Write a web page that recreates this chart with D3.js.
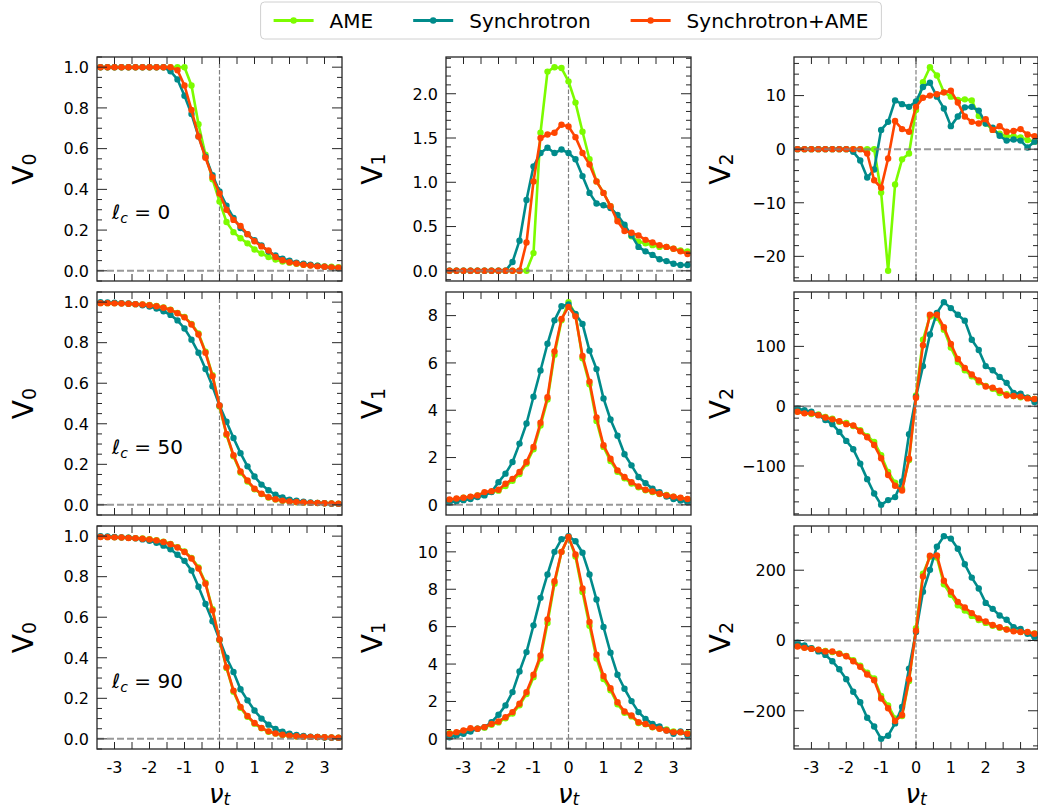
<!DOCTYPE html>
<html>
<head>
<meta charset="utf-8">
<script src="https://cdn.jsdelivr.net/npm/d3@7"></script>
<style>
  body { margin: 0; background: #fff; }
  svg { display: block; font-family: "DejaVu Sans", sans-serif; }
</style>
</head>
<body>
<svg id="chart" width="1038" height="810"></svg>
<script>
// nu_t bin centres (common x grid of every panel)
const nu = [-3.4,-3.2,-3.0,-2.8,-2.6,-2.4,-2.2,-2.0,-1.8,-1.6,-1.4,-1.2,-1.0,-0.8,-0.6,-0.4,-0.2,0.0,
            0.2,0.4,0.6,0.8,1.0,1.2,1.4,1.6,1.8,2.0,2.2,2.4,2.6,2.8,3.0,3.2,3.4];

const seriesNames = ["AME", "Synchrotron", "Synchrotron+AME"];
const lcValues = [0, 50, 90];

// ---- l_c = 0 ----
const v0_lc0_ame = [1,1,1,1,1,1,1,1,1,1,1,1,1,0.91,0.72,0.57,0.45,0.34,0.24,0.19,0.16,0.135,0.105,0.085,0.068,0.055,0.046,0.04,0.035,0.03,0.027,0.025,0.022,0.02,0.018];
const v0_lc0_syn = [1,1,1,1,1,1,1,1,1,1,0.98,0.94,0.86,0.77,0.66,0.56,0.47,0.39,0.32,0.26,0.21,0.18,0.15,0.125,0.095,0.075,0.06,0.05,0.04,0.035,0.03,0.025,0.02,0.015,0.012];
const v0_lc0_mix = [1,1,1,1,1,1,1,1,1,1,1,0.985,0.91,0.79,0.66,0.555,0.46,0.38,0.30,0.25,0.22,0.18,0.145,0.12,0.10,0.068,0.052,0.042,0.036,0.03,0.026,0.022,0.02,0.017,0.015];

const v1_lc0_ame = [0,0,0,0,0,0,0,0,0,0,0,0,0.2,1.56,2.25,2.30,2.29,2.14,1.90,1.57,1.26,1.01,0.88,0.73,0.59,0.50,0.39,0.33,0.31,0.29,0.27,0.27,0.25,0.23,0.22];
const v1_lc0_syn = [0,0,0,0,0,0,0,0,0,0.10,0.34,0.80,1.18,1.33,1.39,1.33,1.37,1.33,1.26,1.07,0.88,0.76,0.74,0.71,0.63,0.52,0.40,0.27,0.22,0.18,0.13,0.11,0.08,0.065,0.065];
const v1_lc0_mix = [0,0,0,0,0,0,0,0,0,0,0,0.32,1.01,1.50,1.54,1.56,1.65,1.63,1.51,1.33,1.20,1.01,0.88,0.73,0.56,0.45,0.43,0.40,0.35,0.32,0.29,0.27,0.25,0.22,0.19];

const v2_lc0_ame = [0,0,0,0,0,0,0,0,0,0,0,0,-8.1,-22.7,-6.6,-1.9,-0.8,7.3,12.5,15.3,13.75,10.6,9.8,9.2,9.3,9.1,6.2,4.8,3.6,2.9,2.4,2.4,2.2,1.7,1.4];
const v2_lc0_syn = [0,0,0,0,0,0,0,0,-0.5,-2.1,-5.3,-3.8,3.6,5.1,9.1,8.4,7.9,8.9,11.6,12.4,9.8,7.6,4.3,6.1,7.8,7.9,7.2,4.8,4.0,2.5,1.6,1.8,1.6,0.3,1.4];
const v2_lc0_mix = [0,0,0,0,0,0,0,0,0,0,-0.8,-5.8,-7.2,-1.75,5.25,3.75,3.25,7.9,9.6,10.0,10.25,10.6,10.9,8.7,6.1,5.1,4.8,5.6,3.6,4.3,3.25,3.4,3.75,2.75,2.4];

// ---- l_c = 50 ----
const v0_lc50_ame = [0.996,0.995,0.995,0.994,0.992,0.99,0.989,0.986,0.981,0.974,0.963,0.947,0.927,0.893,0.845,0.755,0.64,0.485,0.345,0.24,0.16,0.115,0.077,0.053,0.036,0.027,0.02,0.016,0.013,0.011,0.01,0.009,0.008,0.007,0.006];
const v0_lc50_syn = [1.0,0.998,0.997,0.995,0.993,0.99,0.985,0.978,0.968,0.955,0.937,0.91,0.87,0.815,0.75,0.67,0.585,0.49,0.41,0.33,0.255,0.19,0.14,0.1,0.072,0.05,0.036,0.026,0.02,0.015,0.012,0.01,0.008,0.006,0.005];
const v0_lc50_mix = [0.995,0.995,0.994,0.993,0.992,0.99,0.988,0.985,0.98,0.972,0.962,0.945,0.925,0.89,0.84,0.75,0.635,0.49,0.35,0.245,0.165,0.12,0.08,0.055,0.038,0.028,0.021,0.017,0.014,0.012,0.01,0.009,0.008,0.007,0.006];

const v1_lc50_ame = [0.2,0.25,0.3,0.33,0.4,0.5,0.55,0.6,0.8,1.02,1.3,1.75,2.35,3.35,4.45,6.35,7.8,8.57,8.05,6.2,5.1,3.55,2.45,1.85,1.4,1.12,0.9,0.74,0.62,0.54,0.46,0.42,0.34,0.28,0.24];
const v1_lc50_syn = [0.1,0.15,0.2,0.25,0.33,0.4,0.54,0.96,1.32,1.81,2.59,3.44,4.57,5.68,6.81,7.8,8.4,8.47,8.07,7.65,6.52,5.74,4.5,3.61,2.92,2.14,1.67,1.18,0.92,0.68,0.54,0.35,0.25,0.18,0.11];
const v1_lc50_mix = [0.23,0.27,0.3,0.35,0.4,0.54,0.58,0.64,0.89,1.1,1.39,1.81,2.45,3.47,4.55,6.49,7.86,8.37,7.97,6.3,5.21,3.7,2.52,1.95,1.46,1.18,0.96,0.78,0.64,0.57,0.47,0.4,0.35,0.3,0.25];

const v2_lc50_ame = [-9,-11,-13,-14,-18,-21,-26,-28,-33,-40,-50,-60,-82,-110,-128,-138,-90,18,111,150,148,128,98,74,60,50,40,34,29,22,20,17,15,14,12];
const v2_lc50_syn = [-3.9,-6.7,-9.4,-15,-23,-30,-43,-58,-72,-96,-122,-146,-165,-157,-152,-126,-47,16,67,120,156,174,164,153,143,111,94,67,60,49,39,22,21,14,7];
const v2_lc50_mix = [-9.4,-12,-12,-15,-19,-22,-25,-30,-32,-42,-52,-65,-87,-115,-133,-141,-88,14,102,153,153,132,104,79,64,53,43,33,31,26,18,17,16,13,12];

// ---- l_c = 90 ----
const v0_lc90_ame = [0.997,0.996,0.995,0.993,0.992,0.99,0.988,0.985,0.98,0.973,0.962,0.946,0.925,0.893,0.846,0.77,0.64,0.487,0.35,0.233,0.153,0.109,0.075,0.052,0.035,0.026,0.019,0.015,0.012,0.011,0.01,0.009,0.008,0.007,0.006];
const v0_lc90_syn = [1.0,0.998,0.996,0.994,0.992,0.989,0.984,0.977,0.967,0.953,0.935,0.908,0.878,0.83,0.75,0.665,0.58,0.49,0.40,0.33,0.245,0.19,0.14,0.1,0.07,0.049,0.035,0.025,0.019,0.014,0.011,0.009,0.007,0.006,0.005];
const v0_lc90_mix = [0.996,0.995,0.994,0.993,0.991,0.99,0.987,0.984,0.979,0.971,0.96,0.944,0.922,0.89,0.84,0.765,0.634,0.49,0.354,0.238,0.158,0.113,0.078,0.054,0.037,0.027,0.02,0.016,0.013,0.011,0.01,0.009,0.008,0.007,0.006];

const v1_lc90_ame = [0.3,0.32,0.42,0.5,0.55,0.6,0.75,0.88,1.1,1.35,1.8,2.4,3.3,4.3,6.2,8.3,10.0,10.8,9.75,7.85,6.05,4.3,3.2,2.6,1.85,1.4,1.2,0.85,0.78,0.62,0.55,0.5,0.4,0.35,0.3];
const v1_lc90_syn = [0.09,0.18,0.27,0.39,0.54,0.63,0.89,1.29,1.79,2.5,3.6,4.64,6.07,7.54,8.79,10.0,10.68,10.84,10.57,9.95,8.79,7.45,5.98,4.61,3.43,2.68,2.02,1.43,1.07,0.8,0.66,0.45,0.27,0.39,0.18];
const v1_lc90_mix = [0.27,0.36,0.45,0.57,0.54,0.63,0.8,0.93,1.16,1.43,1.88,2.5,3.43,4.46,6.39,8.43,10.0,10.8,9.86,8.04,6.25,4.5,3.36,2.71,1.96,1.46,1.25,0.89,0.8,0.63,0.54,0.45,0.36,0.36,0.27];

const v2_lc90_ame = [-16,-20,-23,-27,-30,-33,-37,-44,-56,-72,-92,-108,-158,-185,-222,-215,-115,35,190,238,236,160,130,100,85,70,58,50,42,36,32,29,25,22,20];
const v2_lc90_syn = [-6.6,-14,-22,-31,-41,-59,-82,-110,-146,-176,-220,-245,-280,-271,-236,-189,-80,24,139,201,267,297,290,261,217,179,148,107,90,71,59,38,33,19,9];
const v2_lc90_mix = [-17,-21,-24,-26,-31,-31,-38,-45,-59,-75,-97,-113,-165,-193,-229,-212,-110,28,182,241,242,170,139,110,94,78,63,54,44,38,31,26,24,24,19];

// tick labels
const xTickValues = [-3, -2, -1, 0, 1, 2, 3];
const xTickLabels = ["-3", "-2", "-1", "0", "1", "2", "3"];
const yTicksV0 = [0, 0.2, 0.4, 0.6, 0.8, 1.0];
const yTicksV1 = [[0, 0.5, 1.0, 1.5, 2.0], [0, 2, 4, 6, 8], [0, 2, 4, 6, 8, 10]];
const yTicksV2 = [[-20, -10, 0, 10], [-100, 0, 100], [-200, 0, 200]];

// ---------- drawing ----------
const colors = ["#7CFC00", "#008B8B", "#FF4500"];
const colX = [97, 446, 794], colW = [245, 245, 244];
const rowY = [57, 292, 526], rowH = [224, 223, 223];
const axisColor = "#262626";

const dataGrid = [
  [[v0_lc0_ame, v0_lc0_syn, v0_lc0_mix], [v1_lc0_ame, v1_lc0_syn, v1_lc0_mix], [v2_lc0_ame, v2_lc0_syn, v2_lc0_mix]],
  [[v0_lc50_ame, v0_lc50_syn, v0_lc50_mix], [v1_lc50_ame, v1_lc50_syn, v1_lc50_mix], [v2_lc50_ame, v2_lc50_syn, v2_lc50_mix]],
  [[v0_lc90_ame, v0_lc90_syn, v0_lc90_mix], [v1_lc90_ame, v1_lc90_syn, v1_lc90_mix], [v2_lc90_ame, v2_lc90_syn, v2_lc90_mix]]
];
const yTickGrid = [
  [yTicksV0, yTicksV1[0], yTicksV2[0]],
  [yTicksV0, yTicksV1[1], yTicksV2[1]],
  [yTicksV0, yTicksV1[2], yTicksV2[2]]
];
const yFormats = [d3.format(".1f"), null, d3.format("d")];

const svg = d3.select("#chart");
const defs = svg.append("defs");

function minorCount(step) {
  const m = step / Math.pow(10, Math.floor(Math.log10(step)));
  return [1, 2.5, 5, 10].some(v => Math.abs(v - m) < 1e-6) ? 5 : 4;
}

for (let r = 0; r < 3; r++) {
  for (let c = 0; c < 3; c++) {
    const left = colX[c], top = rowY[r], w = colW[c], h = rowH[r];
    const series = dataGrid[r][c];
    const all = series.flat().concat([0]);
    const lo = d3.min(all), hi = d3.max(all), pad = 0.05 * (hi - lo);
    const x = d3.scaleLinear().domain([-3.5, 3.5]).range([left, left + w]);
    const y = d3.scaleLinear().domain([lo - pad, hi + pad]).range([top + h, top]);

    const clipId = `clip-${r}-${c}`;
    defs.append("clipPath").attr("id", clipId)
      .append("rect").attr("x", left).attr("y", top).attr("width", w).attr("height", h);

    const g = svg.append("g");
    const plot = g.append("g").attr("clip-path", `url(#${clipId})`);

    // vertical reference line at nu_t = 0
    plot.append("line")
      .attr("x1", x(0)).attr("x2", x(0)).attr("y1", top).attr("y2", top + h)
      .attr("stroke", "#808080").attr("stroke-width", 1.2).attr("stroke-dasharray", "4.5,2");

    const line = d3.line().x((d, i) => x(nu[i])).y(d => y(d));
    series.forEach((vals, k) => {
      plot.append("path").datum(vals)
        .attr("d", line).attr("fill", "none")
        .attr("stroke", colors[k]).attr("stroke-width", 2.6)
        .attr("stroke-linejoin", "round");
      plot.append("g").selectAll("circle").data(vals).join("circle")
        .attr("cx", (d, i) => x(nu[i])).attr("cy", d => y(d)).attr("r", 3.2)
        .attr("fill", colors[k]);
    });

    // horizontal reference line at zero
    plot.append("line")
      .attr("x1", left).attr("x2", left + w).attr("y1", y(0)).attr("y2", y(0))
      .attr("stroke", "#808080").attr("stroke-opacity", 0.8)
      .attr("stroke-width", 2).attr("stroke-dasharray", "7,3");

    // ticks (inward, all four sides)
    const ticks = g.append("g").attr("stroke", axisColor).attr("stroke-width", 1);
    for (let t = -3; t <= 3.0001; t += 0.5) {
      const xp = x(t);
      ticks.append("line").attr("x1", xp).attr("x2", xp).attr("y1", top + h).attr("y2", top + h - 7);
      ticks.append("line").attr("x1", xp).attr("x2", xp).attr("y1", top).attr("y2", top + 7);
    }
    const yt = yTickGrid[r][c];
    const step = yt[1] - yt[0];
    const minorStep = step / minorCount(step);
    const [d0, d1] = y.domain();
    const nMin = Math.ceil(d0 / minorStep - 1e-9), nMax = Math.floor(d1 / minorStep + 1e-9);
    for (let n = nMin; n <= nMax; n++) {
      const v = n * minorStep;
      const isMajor = yt.some(t => Math.abs(t - v) < minorStep * 1e-3);
      const len = isMajor ? 10 : 5;
      const yp = y(v);
      ticks.append("line").attr("x1", left).attr("x2", left + len).attr("y1", yp).attr("y2", yp);
      ticks.append("line").attr("x1", left + w).attr("x2", left + w - len).attr("y1", yp).attr("y2", yp);
    }

    // y tick labels
    const fmt = yFormats[c] || (r === 0 ? d3.format(".1f") : d3.format("d"));
    g.append("g").selectAll("text").data(yt).join("text")
      .attr("x", left - 8).attr("y", d => y(d)).attr("dy", "0.36em")
      .attr("text-anchor", "end").attr("font-size", 16).attr("fill", "#000")
      .text(d => fmt(d));

    // x tick labels and axis title on the bottom row only
    if (r === 2) {
      g.append("g").selectAll("text").data(xTickValues).join("text")
        .attr("x", d => x(d)).attr("y", top + h + 24)
        .attr("text-anchor", "middle").attr("font-size", 16).attr("fill", "#000")
        .text((d, i) => xTickLabels[i]);
      const xl = g.append("text")
        .attr("x", left + w / 2).attr("y", top + h + 54)
        .attr("text-anchor", "middle").attr("font-size", 26).attr("font-style", "italic");
      xl.append("tspan").text("\u03BD");
      xl.append("tspan").attr("font-size", 17).attr("dy", 2).text("t");
    }

    // y label V_k
    const yl = g.append("text")
      .attr("transform", `translate(${left - 64},${top + h / 2}) rotate(-90)`)
      .attr("text-anchor", "middle").attr("font-size", 28);
    yl.append("tspan").text("V");
    yl.append("tspan").attr("font-size", 19).attr("dy", 3).text(String(c));

    // l_c annotation in the first column
    if (c === 0) {
      const ann = g.append("text")
        .attr("x", left + 15).attr("y", top + 0.725 * h)
        .attr("font-size", 20);
      ann.append("tspan").attr("font-style", "italic").text("\u2113");
      ann.append("tspan").attr("font-style", "italic").attr("font-size", 14).attr("dy", 4).text("c");
      ann.append("tspan").attr("dy", -4).text(" = " + lcValues[r]);
    }

    // frame
    g.append("rect").attr("x", left).attr("y", top).attr("width", w).attr("height", h)
      .attr("fill", "none").attr("stroke", axisColor).attr("stroke-width", 1.3);
  }
}

// ---------- legend ----------
const legendFont = 20, handleLen = 40, handlePad = 16, colSpace = 40, boxPad = 8;
const legend = svg.append("g");
const legendBox = legend.append("rect");
const items = legend.append("g");
let cursor = 0;
seriesNames.forEach((name, k) => {
  const it = items.append("g").attr("transform", `translate(${cursor},0)`);
  it.append("line").attr("x1", 0).attr("x2", handleLen).attr("y1", 0).attr("y2", 0)
    .attr("stroke", colors[k]).attr("stroke-width", 2.8);
  it.append("circle").attr("cx", handleLen / 2).attr("cy", 0).attr("r", 3.2).attr("fill", colors[k]);
  const t = it.append("text").attr("x", handleLen + handlePad).attr("y", 0).attr("dy", "0.36em")
    .attr("font-size", legendFont).text(name);
  cursor += handleLen + handlePad + t.node().getComputedTextLength() + colSpace;
});
const totalW = cursor - colSpace;
const boxW = totalW + 2 * boxPad + 10, boxH = 37;
const centre = 571;
const boxLeft = centre - boxW / 2;
legendBox.attr("x", boxLeft).attr("y", 2).attr("width", boxW).attr("height", boxH)
  .attr("rx", 4).attr("fill", "#fff").attr("stroke", "#d0d0d0").attr("stroke-width", 1);
items.attr("transform", `translate(${boxLeft + boxPad + 5},${2 + boxH / 2})`);
</script>
</body>
</html>
